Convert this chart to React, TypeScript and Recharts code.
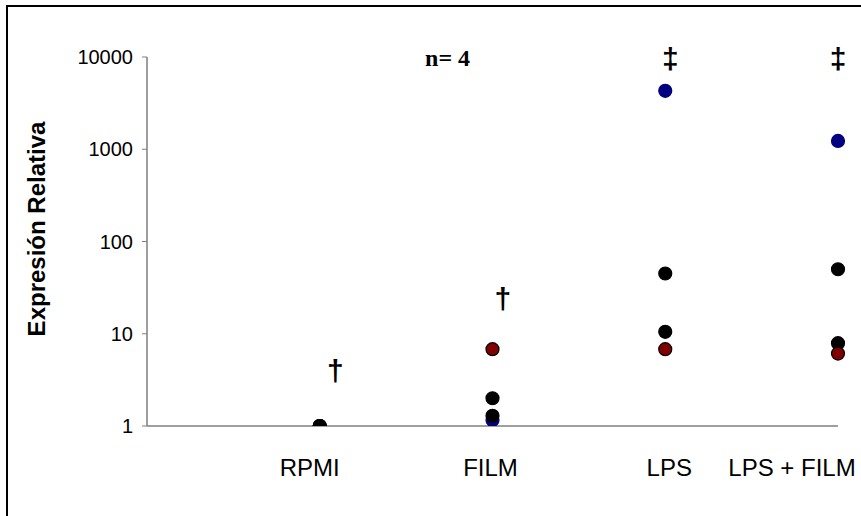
import {
  ReferenceDot,
  Scatter,
  ScatterChart,
  XAxis,
  YAxis,
} from "recharts";

const categories = ["RPMI", "FILM", "LPS", "LPS + FILM"];

// four donors, expression relative to RPMI
const blueDonor = [1, 1.16, 4300, 1230];
const blackDonorA = [1, 1.29, 10.5, 7.9];
const redDonor = [1, 6.8, 6.8, 6.1];
const blackDonorB = [1, 2.0, 45, 50];

const yTicks = [1, 10, 100, 1000, 10000];

const marks = [
  { x: 1.09, y: 3.85, text: "†" },
  { x: 2.06, y: 23, text: "†" },
  { x: 3.03, y: 9300, text: "‡" },
  { x: 4.0, y: 9300, text: "‡" },
];

const toPoints = (vals: number[]) =>
  categories.map((c, i) => ({ x: i + 1, y: vals[i], name: c }));

const AXIS = "#7f7f7f";
const SANS = "'Liberation Sans', Arial, sans-serif";

function dot(fill: string, stroke: string) {
  return (p: any) => (
    <circle cx={p.cx} cy={p.cy} r={6.5} fill={fill} stroke={stroke} strokeWidth={1.2} />
  );
}

const labelShift = [-10, -2, 4, -46];

function CategoryTick(props: any) {
  const { x, y, payload } = props;
  const i = payload.value - 1;
  return (
    <text
      x={x + (labelShift[i] ?? 0)}
      y={y + 42}
      textAnchor="middle"
      fontFamily={SANS}
      fontSize={24}
      fill="#000"
    >
      {categories[i]}
    </text>
  );
}

function Mark(text: string) {
  return (p: any) => (
    <text
      x={p.cx}
      y={p.cy + 9}
      textAnchor="middle"
      fontFamily={SANS}
      fontWeight="bold"
      fontSize={30}
      fill="#000"
    >
      {text}
    </text>
  );
}

export default function App() {
  return (
    <div
      style={{
        position: "fixed",
        left: 0,
        top: 0,
        width: 861,
        height: 516,
        overflow: "hidden",
        background: "#fff",
      }}
    >
      <div
        style={{
          position: "absolute",
          left: 6,
          top: 5,
          width: 900,
          height: 600,
          borderTop: "2px solid #000",
          borderLeft: "2px solid #000",
        }}
      />
      <div style={{ position: "absolute", left: 0, top: 0 }}>
        <ScatterChart
          width={861}
          height={516}
          margin={{ top: 57, right: 23, bottom: 30, left: 0 }}
        >
          <XAxis
            type="number"
            dataKey="x"
            domain={[0, 4]}
            ticks={[1, 2, 3, 4]}
            height={60}
            axisLine={{ stroke: AXIS, strokeWidth: 1.5 }}
            tickLine={false}
            tick={<CategoryTick />}
          />
          <YAxis
            type="number"
            dataKey="y"
            scale="log"
            domain={[1, 10000]}
            ticks={yTicks}
            allowDataOverflow
            width={147}
            axisLine={{ stroke: AXIS, strokeWidth: 1.5 }}
            tickLine={{ stroke: AXIS }}
            tickSize={5}
            tickMargin={9}
            tick={{ fontFamily: SANS, fontSize: 20, fill: "#000" }}
            label={{
              content: () => (
                <text
                  x={36}
                  y={229}
                  transform="rotate(-90 36 229)"
                  textAnchor="middle"
                  dominantBaseline="central"
                  fontFamily={SANS}
                  fontWeight="bold"
                  fontSize={24}
                  fill="#000"
                >
                  Expresión Relativa
                </text>
              ),
            }}
          />
          <Scatter data={toPoints(blueDonor)} shape={dot("#000080", "#000080")} isAnimationActive={false} />
          <Scatter data={toPoints(blackDonorA)} shape={dot("#000", "#000")} isAnimationActive={false} />
          <Scatter data={toPoints(redDonor)} shape={dot("#800000", "#000")} isAnimationActive={false} />
          <Scatter data={toPoints(blackDonorB)} shape={dot("#000", "#000")} isAnimationActive={false} />
          {marks.map((m, i) => (
            <ReferenceDot key={i} x={m.x} y={m.y} r={0} shape={Mark(m.text)} ifOverflow="visible" />
          ))}
          <ReferenceDot
            x={1.74}
            y={9800}
            r={0}
            ifOverflow="visible"
            shape={(p: any) => (
              <text
                x={p.cx}
                y={p.cy + 8}
                textAnchor="middle"
                fontFamily="'Liberation Serif', 'Times New Roman', serif"
                fontWeight="bold"
                fontSize={24}
                fill="#000"
              >
                n= 4
              </text>
            )}
          />
        </ScatterChart>
      </div>
    </div>
  );
}
